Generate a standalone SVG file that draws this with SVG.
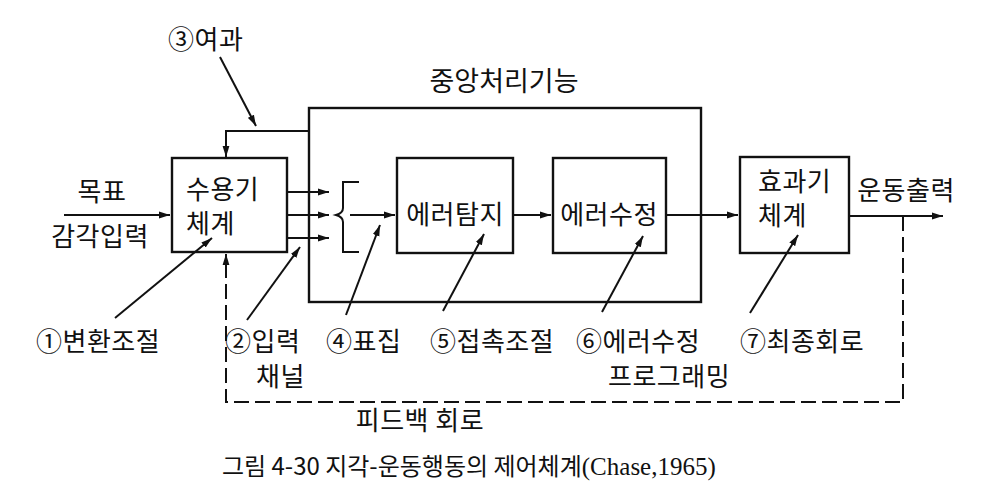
<svg xmlns="http://www.w3.org/2000/svg" width="981" height="498" viewBox="0 0 981 498">
<defs>
<marker id="ah" markerUnits="userSpaceOnUse" markerWidth="11" markerHeight="8" refX="11" refY="4" orient="auto">
<path d="M0,0.6 L11,4 L0,7.4 z" fill="#111"/>
</marker>
<style>
.box{fill:none;stroke:#111;stroke-width:2.4}
.ln{fill:none;stroke:#111;stroke-width:2}
.dash{fill:none;stroke:#111;stroke-width:2;stroke-dasharray:15 6}
text{font-family:"Noto Sans CJK KR","Noto Sans",sans-serif;fill:#111;font-size:26px}
.lb{letter-spacing:0.5px}
.cap{font-size:24px}
</style>
</defs>
<rect width="981" height="498" fill="#fff"/>

<g id="central">
<rect class="box" x="309" y="108" width="392" height="194"/>
<text x="504" y="91" text-anchor="middle" style="font-size:27px">중앙처리기능</text>
</g>
<g id="receptor">
<rect class="box" x="172" y="158" width="115" height="94"/>
<text x="186" y="199" class="lb">수용기</text>
<text x="186" y="233" class="lb">체계</text>
</g>
<g id="errdetect">
<rect class="box" x="397" y="158" width="116" height="95"/>
<text x="455" y="224" text-anchor="middle" class="lb">에러탐지</text>
</g>
<g id="errcorrect">
<rect class="box" x="553" y="158" width="113" height="95"/>
<text x="609" y="224" text-anchor="middle" class="lb">에러수정</text>
</g>
<g id="effector">
<rect class="box" x="740" y="157" width="109" height="96"/>
<text x="758" y="191" class="lb">효과기</text>
<text x="758" y="225" class="lb">체계</text>
</g>

<g id="labels">
<text x="102" y="201" text-anchor="middle" class="lb">목표</text>
<text x="100" y="246" text-anchor="middle" class="lb">감각입력</text>
<text x="906" y="200" text-anchor="middle" class="lb">운동출력</text>
<text x="168" y="49" class="lb">③여과</text>
<text x="36" y="351" class="lb">①변환조절</text>
<text x="225" y="351" class="lb">②입력</text>
<text x="256" y="386" class="lb">채널</text>
<text x="326" y="351" class="lb">④표집</text>
<text x="430" y="351" class="lb">⑤접촉조절</text>
<text x="576" y="351" class="lb">⑥에러수정</text>
<text x="608" y="386" class="lb">프로그래밍</text>
<text x="740" y="351" class="lb">⑦최종회로</text>
<text x="420" y="430" text-anchor="middle" class="lb">피드백 회로</text>
<text x="222" y="475" class="cap">그림 4-30 지각-운동행동의 제어체계<tspan style="font-family:'Liberation Serif',serif;font-size:25px">(Chase,1965)</tspan></text>
</g>

<g id="connectors">
<path class="ln" d="M64,215 L170,215" marker-end="url(#ah)"/>
<path class="ln" d="M287,192 L329,192" marker-end="url(#ah)"/>
<path class="ln" d="M287,215 L329,215" marker-end="url(#ah)"/>
<path class="ln" d="M287,238 L329,238" marker-end="url(#ah)"/>
<path class="ln" d="M359,182 L343,182 L343,208 Q343,213 336,215 Q343,217 343,222 L343,252 L359,252"/>
<path class="ln" d="M350,215 L395,215" marker-end="url(#ah)"/>
<path class="ln" d="M513,215 L551,215" marker-end="url(#ah)"/>
<path class="ln" d="M666,215 L738,215" marker-end="url(#ah)"/>
<path class="ln" d="M849,216 L943,216" marker-end="url(#ah)"/>
<path class="ln" d="M309,131 L226,131 L226,157" marker-end="url(#ah)"/>
<path class="ln" d="M220,57 L256,126" marker-end="url(#ah)"/>
<path class="dash" d="M903,216 L903,402 L226,402 L226,254" marker-end="url(#ah)"/>
<path class="ln" d="M115,318 L212,238" marker-end="url(#ah)"/>
<path class="ln" d="M247,320 L300,247" marker-end="url(#ah)"/>
<path class="ln" d="M346,315 L380,225" marker-end="url(#ah)"/>
<path class="ln" d="M443,311 L484,234" marker-end="url(#ah)"/>
<path class="ln" d="M602,312 L643,236" marker-end="url(#ah)"/>
<path class="ln" d="M750,313 L798,235" marker-end="url(#ah)"/>
</g>
</svg>
